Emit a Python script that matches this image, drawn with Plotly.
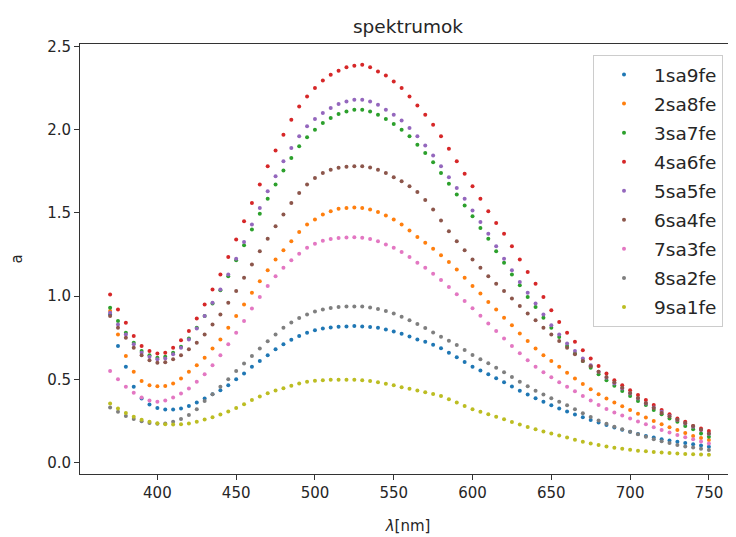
import plotly.graph_objects as go

wavelength = list(range(370, 751, 5))

s1sa9fe = [0.89, 0.70, 0.575, 0.455, 0.385, 0.348, 0.328, 0.318, 0.318, 0.325,
           0.34, 0.36, 0.385, 0.41, 0.435, 0.465, 0.50, 0.535, 0.575, 0.61,
           0.645, 0.68, 0.71, 0.738, 0.76, 0.78, 0.795, 0.805, 0.812, 0.816,
           0.818, 0.82, 0.818, 0.815, 0.81, 0.80, 0.788, 0.774, 0.758, 0.74,
           0.725, 0.708, 0.686, 0.66, 0.632, 0.604, 0.576, 0.553, 0.53, 0.506,
           0.482, 0.457, 0.432, 0.409, 0.386, 0.365, 0.344, 0.325, 0.306, 0.289,
           0.272, 0.256, 0.24, 0.225, 0.21, 0.197, 0.185, 0.172, 0.16, 0.15,
           0.14, 0.132, 0.125, 0.117, 0.11, 0.102, 0.095]

s2sa8fe = [0.91, 0.77, 0.64, 0.545, 0.49, 0.465, 0.458, 0.46, 0.475, 0.505,
           0.545, 0.585, 0.63, 0.685, 0.74, 0.81, 0.88, 0.95, 1.02, 1.09,
           1.155, 1.22, 1.275, 1.33, 1.385, 1.43, 1.46, 1.49, 1.51, 1.525,
           1.53, 1.532, 1.53, 1.52, 1.505, 1.485, 1.46, 1.43, 1.395, 1.355,
           1.32, 1.285, 1.245, 1.205, 1.16, 1.11, 1.06, 1.015, 0.965, 0.92,
           0.87, 0.825, 0.775, 0.73, 0.685, 0.645, 0.61, 0.575, 0.54, 0.505,
           0.472, 0.44, 0.41, 0.385, 0.36, 0.338, 0.316, 0.293, 0.27, 0.25,
           0.23, 0.212, 0.195, 0.177, 0.16, 0.147, 0.135]

s3sa7fe = [0.93, 0.85, 0.78, 0.72, 0.67, 0.645, 0.63, 0.635, 0.66, 0.695,
           0.745, 0.81, 0.88, 0.955, 1.035, 1.12, 1.215, 1.305, 1.40, 1.495,
           1.585, 1.67, 1.755, 1.83, 1.90, 1.955, 2.00, 2.04, 2.07, 2.095,
           2.11, 2.12, 2.12, 2.11, 2.09, 2.065, 2.035, 2.00, 1.96, 1.91,
           1.86, 1.805, 1.74, 1.675, 1.61, 1.545, 1.48, 1.41, 1.345, 1.27,
           1.20, 1.13, 1.065, 0.995, 0.935, 0.87, 0.81, 0.755, 0.70, 0.655,
           0.61, 0.57, 0.53, 0.495, 0.462, 0.43, 0.40, 0.37, 0.345, 0.315,
           0.29, 0.265, 0.245, 0.22, 0.20, 0.175, 0.155]

s4sa6fe = [1.01, 0.92, 0.84, 0.76, 0.70, 0.67, 0.655, 0.66, 0.69, 0.735,
           0.79, 0.865, 0.95, 1.04, 1.13, 1.235, 1.34, 1.45, 1.56, 1.67,
           1.78, 1.875, 1.97, 2.06, 2.14, 2.20, 2.25, 2.295, 2.33, 2.355,
           2.375, 2.385, 2.39, 2.375, 2.35, 2.325, 2.29, 2.25, 2.20, 2.145,
           2.09, 2.03, 1.96, 1.885, 1.81, 1.735, 1.66, 1.585, 1.51, 1.44,
           1.375, 1.30, 1.22, 1.145, 1.075, 0.995, 0.915, 0.845, 0.78, 0.725,
           0.675, 0.625, 0.58, 0.535, 0.495, 0.465, 0.435, 0.405, 0.375, 0.345,
           0.315, 0.29, 0.265, 0.245, 0.22, 0.205, 0.19]

s5sa5fe = [0.90, 0.83, 0.77, 0.71, 0.66, 0.635, 0.62, 0.625, 0.65, 0.69,
           0.74, 0.805, 0.88, 0.96, 1.04, 1.13, 1.225, 1.325, 1.43, 1.53,
           1.63, 1.72, 1.81, 1.89, 1.96, 2.02, 2.065, 2.10, 2.13, 2.155,
           2.17, 2.18, 2.18, 2.17, 2.15, 2.12, 2.09, 2.055, 2.01, 1.96,
           1.905, 1.845, 1.78, 1.715, 1.65, 1.585, 1.515, 1.445, 1.375, 1.30,
           1.225, 1.155, 1.085, 1.02, 0.955, 0.89, 0.825, 0.77, 0.715, 0.67,
           0.625, 0.585, 0.545, 0.51, 0.475, 0.445, 0.415, 0.385, 0.355, 0.33,
           0.305, 0.28, 0.255, 0.235, 0.215, 0.195, 0.172]

s6sa4fe = [0.88, 0.81, 0.75, 0.69, 0.645, 0.615, 0.60, 0.603, 0.62, 0.645,
           0.68, 0.72, 0.77, 0.83, 0.89, 0.96, 1.03, 1.11, 1.19, 1.27,
           1.345, 1.42, 1.49, 1.56, 1.62, 1.67, 1.71, 1.74, 1.76, 1.772,
           1.778, 1.78, 1.78, 1.773, 1.76, 1.74, 1.715, 1.69, 1.66, 1.625,
           1.578, 1.52, 1.455, 1.39, 1.33, 1.275, 1.22, 1.17, 1.12, 1.075,
           1.03, 0.985, 0.94, 0.895, 0.855, 0.81, 0.77, 0.73, 0.69, 0.65,
           0.61, 0.578, 0.546, 0.514, 0.482, 0.45, 0.418, 0.387, 0.357, 0.327,
           0.297, 0.277, 0.257, 0.238, 0.22, 0.197, 0.175]

s7sa3fe = [0.55, 0.50, 0.455, 0.42, 0.39, 0.372, 0.365, 0.372, 0.39, 0.415,
           0.445, 0.485, 0.53, 0.585, 0.645, 0.71, 0.78, 0.85, 0.925, 0.995,
           1.06, 1.12, 1.17, 1.215, 1.255, 1.29, 1.315, 1.332, 1.343, 1.349,
           1.352, 1.353, 1.35, 1.343, 1.33, 1.31, 1.29, 1.265, 1.235, 1.20,
           1.17, 1.135, 1.097, 1.055, 1.011, 0.97, 0.927, 0.882, 0.836, 0.79,
           0.746, 0.70, 0.656, 0.615, 0.576, 0.543, 0.512, 0.483, 0.456, 0.428,
           0.40, 0.373, 0.346, 0.322, 0.30, 0.282, 0.265, 0.247, 0.23, 0.212,
           0.195, 0.18, 0.165, 0.152, 0.14, 0.127, 0.115]

s8sa2fe = [0.33, 0.305, 0.28, 0.262, 0.248, 0.238, 0.233, 0.235, 0.245, 0.262,
           0.285, 0.32, 0.37, 0.41, 0.455, 0.50, 0.55, 0.595, 0.64, 0.685,
           0.728, 0.77, 0.81, 0.842, 0.868, 0.89, 0.907, 0.92, 0.928, 0.934,
           0.937, 0.938, 0.937, 0.932, 0.922, 0.91, 0.895, 0.876, 0.855, 0.832,
           0.808, 0.782, 0.756, 0.731, 0.706, 0.676, 0.646, 0.62, 0.596, 0.57,
           0.542, 0.514, 0.486, 0.459, 0.432, 0.409, 0.386, 0.365, 0.344, 0.32,
           0.296, 0.274, 0.252, 0.233, 0.215, 0.20, 0.185, 0.17, 0.155, 0.14,
           0.128, 0.117, 0.106, 0.097, 0.09, 0.082, 0.075]

s9sa1fe = [0.355, 0.325, 0.298, 0.275, 0.257, 0.245, 0.236, 0.23, 0.228, 0.23,
           0.235, 0.245, 0.258, 0.272, 0.288, 0.307, 0.328, 0.35, 0.375, 0.397,
           0.417, 0.433, 0.447, 0.462, 0.475, 0.485, 0.492, 0.495, 0.497, 0.498,
           0.498, 0.497, 0.495, 0.49, 0.483, 0.474, 0.464, 0.452, 0.443, 0.433,
           0.423, 0.412, 0.40, 0.38, 0.36, 0.34, 0.32, 0.305, 0.29, 0.275,
           0.26, 0.244, 0.228, 0.214, 0.20, 0.187, 0.175, 0.162, 0.15, 0.137,
           0.125, 0.115, 0.105, 0.097, 0.089, 0.082, 0.076, 0.071, 0.067, 0.063,
           0.06, 0.057, 0.054, 0.051, 0.049, 0.048, 0.047]

series_names = ["1sa9fe", "2sa8fe", "3sa7fe", "4sa6fe", "5sa5fe",
                "6sa4fe", "7sa3fe", "8sa2fe", "9sa1fe"]
series_values = [s1sa9fe, s2sa8fe, s3sa7fe, s4sa6fe, s5sa5fe,
                 s6sa4fe, s7sa3fe, s8sa2fe, s9sa1fe]
colors = ["#1f77b4", "#ff7f0e", "#2ca02c", "#d62728", "#9467bd",
          "#8c564b", "#e377c2", "#7f7f7f", "#bcbd22"]

x_ticks = [400, 450, 500, 550, 600, 650, 700, 750]
y_ticks = [0.0, 0.5, 1.0, 1.5, 2.0, 2.5]

FONT = "DejaVu Sans"
TXT = "#262626"

# The page body has an 8px margin, so the figure is 8px smaller and shifted.
W, H = 728, 529

fig = go.Figure()
for name, vals, col in zip(series_names, series_values, colors):
    fig.add_trace(go.Scatter(
        x=wavelength, y=vals, mode="markers", name=name, legendgroup=name,
        marker=dict(color=col, size=4, line=dict(width=0)),
    ))

fig.update_layout(
    width=W, height=H,
    margin=dict(l=72, r=0, t=36, b=63, autoexpand=False),
    paper_bgcolor="white", plot_bgcolor="white",
    font=dict(family=FONT, color=TXT, size=15),
    title=dict(text="spektrumok", x=0.5, xref="paper", xanchor="center",
               y=1 - 19 / H, yref="container", yanchor="middle",
               font=dict(family=FONT, size=18.5, color=TXT)),
    showlegend=True,
    legend=dict(x=(593 - 80) / 656, xanchor="left", y=(474 - 55) / 430, yanchor="top",
                bgcolor="rgba(255,255,255,0.8)", bordercolor="#cccccc",
                borderwidth=1, font=dict(family=FONT, size=18.5, color=TXT),
                itemsizing="trace", itemwidth=50, tracegroupgap=2),
)
fig.update_xaxes(
    range=[350.9, 767.2], tickvals=x_ticks, ticktext=[str(v) for v in x_ticks],
    showgrid=False, zeroline=False, showline=True, mirror=True,
    linecolor="#333333", linewidth=1, ticks="outside", ticklen=5,
    tickcolor="#333333", tickfont=dict(family=FONT, size=15, color=TXT),
    title=dict(text="<i>λ</i>[nm]", font=dict(family=FONT, size=15, color=TXT),
               standoff=19),
)
fig.update_yaxes(
    range=[-0.069, 2.515], tickvals=y_ticks, ticktext=[f"{v:.1f}" for v in y_ticks],
    showgrid=False, zeroline=False, showline=True, mirror=False,
    linecolor="#333333", linewidth=1, ticks="outside", ticklen=5,
    tickcolor="#333333", tickfont=dict(family=FONT, size=15, color=TXT),
    title=dict(text="a", font=dict(family=FONT, size=15, color=TXT), standoff=22),
)

fig.write_html("out.html")
